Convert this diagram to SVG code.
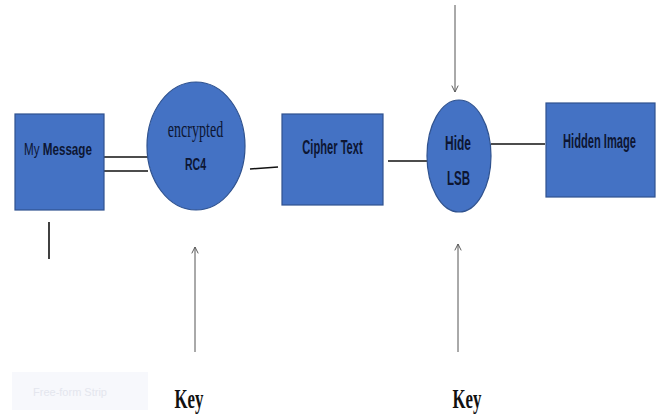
<svg xmlns="http://www.w3.org/2000/svg" width="660" height="417" viewBox="0 0 660 417">
<defs>
<style>
.box{fill:#4472C4;stroke:#2F528F;stroke-width:1.2}
.lbl{font-family:"Liberation Sans",Arial,sans-serif;font-size:21px;fill:#0d1633;text-anchor:middle}
.b{font-weight:bold}
.ln{stroke:#111;stroke-width:1.6;fill:none}
.ar{stroke:#555;stroke-width:1;fill:none}
.key{font-family:"Liberation Serif","Times New Roman",serif;font-size:28px;font-weight:bold;fill:#111;text-anchor:middle}
</style>
<marker id="ah" viewBox="0 0 10 10" refX="9" refY="5" markerWidth="8" markerHeight="8" orient="auto" markerUnits="userSpaceOnUse">
<path d="M1,1 L9,5 L1,9" fill="none" stroke="#555" stroke-width="1.2"/>
</marker>
</defs>
<rect width="660" height="417" fill="#fff"/>
<g id="connectors">
<line class="ln" x1="104" y1="157" x2="148" y2="157"/>
<line class="ln" x1="104" y1="171" x2="148" y2="171"/>
<line class="ln" x1="250" y1="169" x2="278" y2="167"/>
<line class="ln" x1="388" y1="161" x2="427" y2="161"/>
<line class="ln" x1="491" y1="144" x2="545" y2="144"/>
<line class="ln" x1="49" y1="222" x2="49" y2="259"/>
<line class="ar" x1="455" y1="5" x2="455" y2="92" marker-end="url(#ah)"/>
<line class="ar" x1="195" y1="352" x2="195" y2="247" marker-end="url(#ah)"/>
<line class="ar" x1="458" y1="352" x2="458" y2="244" marker-end="url(#ah)"/>
</g>
<g id="my-message">
<rect class="box" x="15" y="114" width="89" height="96"/>
<text class="lbl" transform="translate(24,155) scale(0.685,1)" style="font-size:17px;text-anchor:start">My <tspan class="b">Message</tspan></text>
</g>
<g id="encrypted-rc4">
<ellipse class="box" cx="196" cy="146" rx="49" ry="64"/>
<text transform="translate(195.5,137) scale(0.61,1)" font-family="'Liberation Serif','Times New Roman',serif" font-size="23" fill="#0d1633" text-anchor="middle">encrypted</text>
<text class="lbl b" transform="translate(195.5,170) scale(0.62,1)" style="font-size:17px">RC4</text>
</g>
<g id="cipher-text">
<rect class="box" x="282" y="114" width="101" height="91"/>
<text class="lbl b" transform="translate(332.5,154) scale(0.53,1)">Cipher Text</text>
</g>
<g id="hide-lsb">
<ellipse class="box" cx="459" cy="156" rx="32" ry="56"/>
<text class="lbl b" transform="translate(458,150) scale(0.57,1)">Hide</text>
<text class="lbl b" transform="translate(458.5,185) scale(0.55,1)">LSB</text>
</g>
<g id="hidden-image">
<rect class="box" x="546" y="103" width="109" height="94"/>
<text class="lbl b" transform="translate(599.5,148) scale(0.53,1)">Hidden Image</text>
</g>
<g id="keys">
<text class="key" transform="translate(189,408) scale(0.6,1)">Key</text>
<text class="key" transform="translate(467,408) scale(0.6,1)">Key</text>
</g>
<g id="strip">
<rect x="12" y="372" width="136" height="38" fill="#f7f8fc"/>
<text x="70" y="396" font-family="'Liberation Sans',Arial,sans-serif" font-size="11" fill="#e4e6ee" text-anchor="middle">Free-form Strip</text>
</g>
</svg>
